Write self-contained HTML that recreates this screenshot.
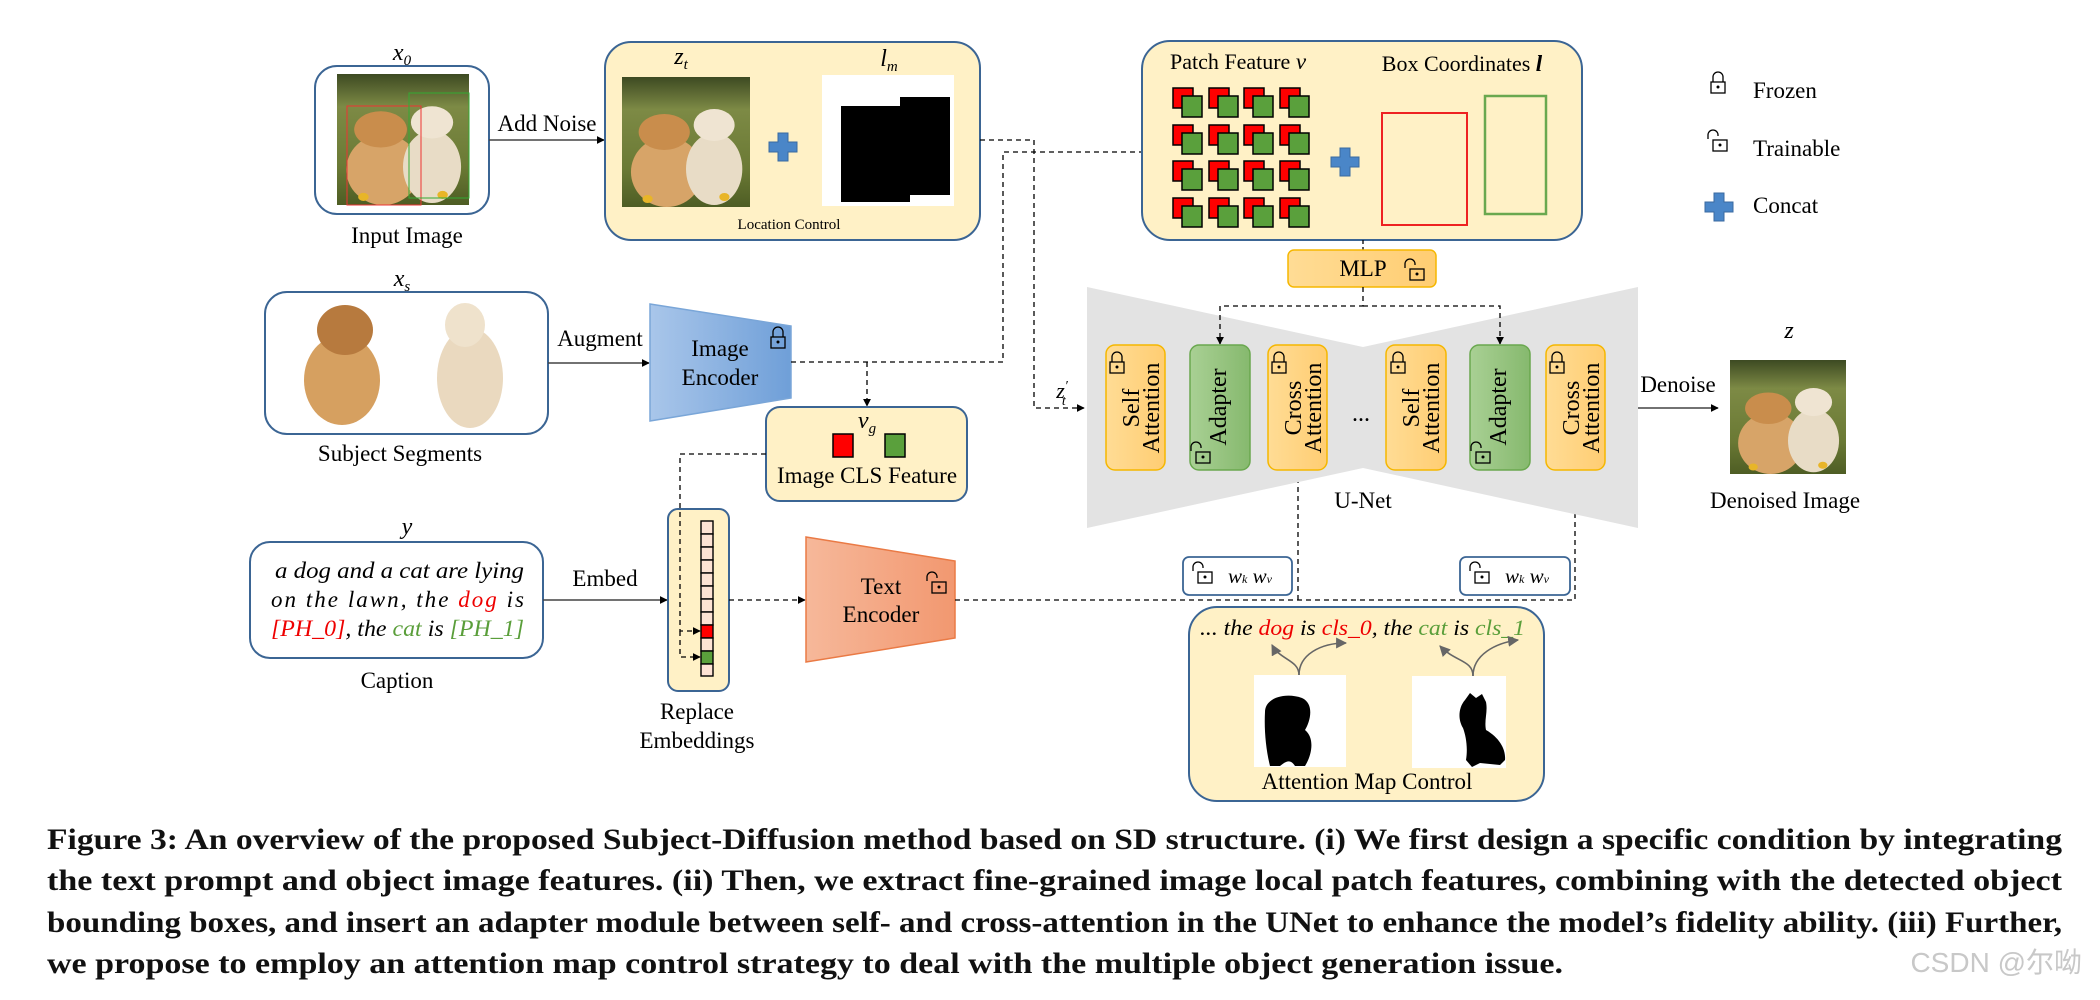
<!DOCTYPE html>
<html><head><meta charset="utf-8">
<style>
html,body{margin:0;padding:0;background:#fff;}
svg{display:block;}
text{font-family:"Liberation Serif",serif;}
</style></head>
<body>
<div style="position:relative;width:2100px;height:1000px;overflow:hidden;">
<svg width="2100" height="1000" viewBox="0 0 2100 1000" xmlns="http://www.w3.org/2000/svg">
<defs>
<marker id="ar" viewBox="0 0 10 10" refX="9" refY="5" markerWidth="8" markerHeight="8" orient="auto" markerUnits="userSpaceOnUse"><path d="M0,0 L10,5 L0,10 z" fill="#000"/></marker>
<marker id="arg" viewBox="0 0 10 10" refX="9" refY="5" markerWidth="11" markerHeight="11" orient="auto" markerUnits="userSpaceOnUse"><path d="M0,0 L10,5 L0,10 z" fill="#666"/></marker>
<linearGradient id="grass" x1="0" y1="0" x2="0" y2="1">
<stop offset="0" stop-color="#3d4a22"/><stop offset="0.25" stop-color="#7d8a45"/><stop offset="0.7" stop-color="#6b7a35"/><stop offset="1" stop-color="#4e5d24"/></linearGradient>
<linearGradient id="blue" x1="0" y1="0" x2="1" y2="0"><stop offset="0" stop-color="#a9c6ea"/><stop offset="1" stop-color="#6f9fd8"/></linearGradient>
<linearGradient id="oran" x1="0" y1="0" x2="1" y2="0"><stop offset="0" stop-color="#f6b89a"/><stop offset="1" stop-color="#f29870"/></linearGradient>
<linearGradient id="yel" x1="0" y1="0" x2="1" y2="0"><stop offset="0" stop-color="#ffdc95"/><stop offset="1" stop-color="#ffcd72"/></linearGradient>
<linearGradient id="grn" x1="0" y1="0" x2="1" y2="0"><stop offset="0" stop-color="#a9d094"/><stop offset="1" stop-color="#86b96e"/></linearGradient>
<symbol id="photo" viewBox="0 0 100 130" preserveAspectRatio="none">
<rect width="100" height="130" fill="url(#grass)"/>
<ellipse cx="35" cy="95" rx="28" ry="35" fill="#d7a468"/>
<ellipse cx="33" cy="55" rx="20" ry="18" fill="#c98d4c"/>
<ellipse cx="72" cy="92" rx="22" ry="36" fill="#e8dcc6"/>
<ellipse cx="72" cy="48" rx="16" ry="16" fill="#efe4d2"/>
<circle cx="20" cy="122" r="4" fill="#e8b528"/><circle cx="80" cy="120" r="4" fill="#e8b528"/>
</symbol>
<g id="lockC"><path d="M-5,0 v-5 a5,5 0 0 1 10,0 v5" fill="none" stroke="#000" stroke-width="1.3"/><rect x="-7" y="0" width="14" height="11" fill="none" stroke="#000" stroke-width="1.3"/><circle cx="0" cy="5" r="1.5" fill="#000"/></g>
<g id="lockO"><path d="M-9,-1 v-4 a5,5 0 0 1 10,0 v1" fill="none" stroke="#000" stroke-width="1.3"/><rect x="-4" y="0" width="14" height="11" fill="none" stroke="#000" stroke-width="1.3"/><circle cx="3" cy="5" r="1.5" fill="#000"/></g>
<g id="plus"><path d="M-5,-14 h10 v9 h9 v10 h-9 v9 h-10 v-9 h-9 v-10 h9 z" fill="#4a86c8" stroke="#3a6aa0" stroke-width="1"/></g>
<g id="pc" stroke="#000" stroke-width="1.5"><rect x="0" y="0" width="20" height="20" fill="#f00"/><rect x="9" y="8" width="20" height="21" fill="#5aa03c"/></g>
</defs>

<!-- Input image -->
<text x="402" y="60" font-size="24" font-style="italic" text-anchor="middle">x<tspan font-size="15" dy="5">0</tspan></text>
<rect x="315" y="66" width="174" height="148" rx="22" fill="#fff" stroke="#3b6594" stroke-width="2"/>
<use href="#photo" x="337" y="74" width="132" height="131"/>
<rect x="347" y="106" width="74" height="99" fill="none" stroke="#e33" stroke-width="1"/>
<rect x="409" y="93" width="60" height="105" fill="none" stroke="#3a3" stroke-width="1"/>
<text x="407" y="243" font-size="23" text-anchor="middle">Input Image</text>
<text x="547" y="131" font-size="23" text-anchor="middle">Add Noise</text>
<line x1="489" y1="140" x2="604" y2="140" stroke="#444" stroke-width="1.6" marker-end="url(#ar)"/>

<!-- Location control -->
<rect x="605" y="42" width="375" height="198" rx="26" fill="#fff1c6" stroke="#3b6594" stroke-width="2"/>
<text x="681" y="64" font-size="24" font-style="italic" text-anchor="middle">z<tspan font-size="15" dy="5">t</tspan></text>
<text x="889" y="66" font-size="24" font-style="italic" text-anchor="middle">l<tspan font-size="15" dy="5">m</tspan></text>
<use href="#photo" x="622" y="77" width="128" height="130"/>
<use href="#plus" x="783" y="147"/>
<rect x="822" y="75" width="132" height="131" fill="#fff"/>
<path d="M841,106 H900 V97 H950 V195 H910 V202 H841 Z" fill="#000"/>
<text x="789" y="229" font-size="15" text-anchor="middle">Location Control</text>

<!-- Subject segments -->
<text x="402" y="286" font-size="24" font-style="italic" text-anchor="middle">x<tspan font-size="15" dy="5">s</tspan></text>
<rect x="265" y="292" width="283" height="142" rx="22" fill="#fff" stroke="#3b6594" stroke-width="2"/>
<ellipse cx="342" cy="380" rx="38" ry="45" fill="#d6a060"/>
<ellipse cx="345" cy="330" rx="28" ry="25" fill="#b77a3e"/>
<ellipse cx="470" cy="378" rx="33" ry="50" fill="#ead9bf"/>
<ellipse cx="465" cy="325" rx="20" ry="22" fill="#efe2cc"/>
<text x="400" y="461" font-size="23" text-anchor="middle">Subject Segments</text>
<text x="600" y="346" font-size="23" text-anchor="middle">Augment</text>
<line x1="548" y1="363" x2="649" y2="363" stroke="#444" stroke-width="1.6" marker-end="url(#ar)"/>

<!-- Image encoder -->
<path d="M650,304 L791,326 L791,398 L650,421 Z" fill="url(#blue)" stroke="#7aa6d8" stroke-width="1.5"/>
<text x="720" y="356" font-size="23" text-anchor="middle">Image</text>
<text x="720" y="385" font-size="23" text-anchor="middle">Encoder</text>
<use href="#lockC" x="778" y="337"/>

<path d="M791,362 H1003 V152 H1167" fill="none" stroke="#000" stroke-width="1.3" stroke-dasharray="5,4" marker-end="url(#ar)"/>
<path d="M867,362 V406" fill="none" stroke="#000" stroke-width="1.3" stroke-dasharray="5,4" marker-end="url(#ar)"/>
<path d="M980,140 H1034 V408 H1084" fill="none" stroke="#000" stroke-width="1.3" stroke-dasharray="5,4" marker-end="url(#ar)"/>
<text x="1062" y="398" font-size="22" font-style="italic" text-anchor="middle">z<tspan font-size="14" dy="-8">′</tspan><tspan font-size="14" dx="-6" dy="15">t</tspan></text>

<!-- vg -->
<rect x="766" y="407" width="201" height="94" rx="14" fill="#fff1c6" stroke="#3b6594" stroke-width="2"/>
<text x="867" y="428" font-size="24" font-style="italic" text-anchor="middle">v<tspan font-size="15" dy="5">g</tspan></text>
<rect x="833" y="434" width="20" height="23" fill="#f00" stroke="#000" stroke-width="1.5"/>
<rect x="885" y="434" width="20" height="23" fill="#5aa03c" stroke="#000" stroke-width="1.5"/>
<text x="867" y="483" font-size="23" text-anchor="middle">Image CLS Feature</text>

<!-- caption -->
<text x="407" y="534" font-size="24" font-style="italic" text-anchor="middle">y</text>
<rect x="250" y="542" width="293" height="116" rx="20" fill="#fff" stroke="#3b6594" stroke-width="2"/>
<g font-size="23" font-style="italic">
<text x="275" y="578" textLength="249" lengthAdjust="spacingAndGlyphs">a dog and a cat are lying</text>
<text x="271" y="607" textLength="253" lengthAdjust="spacing">on the lawn, the <tspan fill="#e00">dog</tspan> is</text>
<text x="271" y="636" textLength="253" lengthAdjust="spacingAndGlyphs"><tspan fill="#e00">[PH_0]</tspan>, the <tspan fill="#5a9e3a">cat</tspan> is <tspan fill="#5a9e3a">[PH_1]</tspan></text>
</g>
<text x="397" y="688" font-size="23" text-anchor="middle">Caption</text>
<text x="605" y="586" font-size="23" text-anchor="middle">Embed</text>
<line x1="543" y1="600" x2="667" y2="600" stroke="#444" stroke-width="1.6" marker-end="url(#ar)"/>

<!-- replace embeddings -->
<rect x="668" y="509" width="61" height="182" rx="10" fill="#fff1c6" stroke="#3b6594" stroke-width="2"/>
<g stroke="#000" stroke-width="1.4" fill="#fde3d4">
<rect x="701" y="521" width="12" height="13"/><rect x="701" y="534" width="12" height="13"/><rect x="701" y="547" width="12" height="13"/><rect x="701" y="560" width="12" height="13"/><rect x="701" y="573" width="12" height="13"/><rect x="701" y="586" width="12" height="13"/><rect x="701" y="599" width="12" height="13"/><rect x="701" y="612" width="12" height="13"/>
<rect x="701" y="625" width="12" height="13" fill="#f00"/><rect x="701" y="638" width="12" height="13"/>
<rect x="701" y="651" width="12" height="13" fill="#5aa03c"/><rect x="701" y="664" width="12" height="12"/>
</g>
<path d="M766,454 H680 V631 H700" fill="none" stroke="#000" stroke-width="1.3" stroke-dasharray="5,4" marker-end="url(#ar)"/>
<path d="M680,631 V657 H700" fill="none" stroke="#000" stroke-width="1.3" stroke-dasharray="5,4" marker-end="url(#ar)"/>
<text x="697" y="719" font-size="23" text-anchor="middle">Replace</text>
<text x="697" y="748" font-size="23" text-anchor="middle">Embeddings</text>
<line x1="729" y1="600" x2="805" y2="600" stroke="#000" stroke-width="1.3" stroke-dasharray="5,4" marker-end="url(#ar)"/>

<!-- text encoder -->
<path d="M806,537 L955,561 L955,638 L806,662 Z" fill="url(#oran)" stroke="#ea7a45" stroke-width="1.5"/>
<text x="881" y="594" font-size="23" text-anchor="middle">Text</text>
<text x="881" y="622" font-size="23" text-anchor="middle">Encoder</text>
<use href="#lockO" x="936" y="582"/>
<path d="M955,600 H1575 V471" fill="none" stroke="#000" stroke-width="1.3" stroke-dasharray="5,4" marker-end="url(#ar)"/>
<path d="M1298,600 V471" fill="none" stroke="#000" stroke-width="1.3" stroke-dasharray="5,4" marker-end="url(#ar)"/>

<!-- patch feature -->
<rect x="1142" y="41" width="440" height="199" rx="28" fill="#fff1c6" stroke="#3b6594" stroke-width="2"/>
<text x="1238" y="69" font-size="22" text-anchor="middle">Patch Feature <tspan font-style="italic" font-size="23">v</tspan></text>
<text x="1462" y="71" font-size="22" text-anchor="middle">Box Coordinates <tspan font-style="italic" font-weight="bold" font-size="23">l</tspan></text>
<use href="#pc" x="1173" y="88"/><use href="#pc" x="1209" y="88"/><use href="#pc" x="1244" y="88"/><use href="#pc" x="1280" y="88"/>
<use href="#pc" x="1173" y="125"/><use href="#pc" x="1209" y="125"/><use href="#pc" x="1244" y="125"/><use href="#pc" x="1280" y="125"/>
<use href="#pc" x="1173" y="161"/><use href="#pc" x="1209" y="161"/><use href="#pc" x="1244" y="161"/><use href="#pc" x="1280" y="161"/>
<use href="#pc" x="1173" y="198"/><use href="#pc" x="1209" y="198"/><use href="#pc" x="1244" y="198"/><use href="#pc" x="1280" y="198"/>
<use href="#plus" x="1345" y="162"/>
<rect x="1382" y="113" width="85" height="112" fill="none" stroke="#e22" stroke-width="2"/>
<rect x="1485" y="96" width="61" height="118" fill="none" stroke="#6aa84f" stroke-width="2.5"/>

<!-- UNet -->
<path d="M1087,287 L1363,347 L1638,287 L1638,528 L1363,468 L1087,528 Z" fill="#e3e3e3"/>
<line x1="1363" y1="240" x2="1363" y2="250" stroke="#000" stroke-width="1.3" stroke-dasharray="4,3"/>
<rect x="1288" y="250" width="148" height="37" rx="6" fill="url(#yel)" stroke="#f5b700" stroke-width="1.5"/>
<text x="1363" y="276" font-size="23" text-anchor="middle">MLP</text>
<use href="#lockO" x="1414" y="269"/>
<path d="M1363,287 V306 H1220 V344" fill="none" stroke="#000" stroke-width="1.3" stroke-dasharray="5,4" marker-end="url(#ar)"/>
<path d="M1363,306 H1500 V344" fill="none" stroke="#000" stroke-width="1.3" stroke-dasharray="5,4" marker-end="url(#ar)"/>

<g font-size="24">
<rect x="1106" y="345" width="59" height="125" rx="9" fill="url(#yel)" stroke="#f5b700" stroke-width="1.5"/>
<text transform="translate(1131,408) rotate(-90)" text-anchor="middle" y="8">Self</text>
<text transform="translate(1159,408) rotate(-90)" text-anchor="middle" y="0">Attention</text>
<use href="#lockC" x="1117" y="362"/>
<rect x="1190" y="345" width="60" height="125" rx="9" fill="url(#grn)" stroke="#6aa84f" stroke-width="1.5"/>
<text transform="translate(1226,407) rotate(-90)" text-anchor="middle">Adapter</text>
<use href="#lockO" x="1200" y="452"/>
<rect x="1268" y="345" width="59" height="125" rx="9" fill="url(#yel)" stroke="#f5b700" stroke-width="1.5"/>
<text transform="translate(1293,408) rotate(-90)" text-anchor="middle" y="8">Cross</text>
<text transform="translate(1321,408) rotate(-90)" text-anchor="middle" y="0">Attention</text>
<use href="#lockC" x="1279" y="362"/>
<text x="1361" y="421" text-anchor="middle">...</text>
<rect x="1386" y="345" width="60" height="125" rx="9" fill="url(#yel)" stroke="#f5b700" stroke-width="1.5"/>
<text transform="translate(1411,408) rotate(-90)" text-anchor="middle" y="8">Self</text>
<text transform="translate(1439,408) rotate(-90)" text-anchor="middle" y="0">Attention</text>
<use href="#lockC" x="1398" y="362"/>
<rect x="1470" y="345" width="60" height="125" rx="9" fill="url(#grn)" stroke="#6aa84f" stroke-width="1.5"/>
<text transform="translate(1506,407) rotate(-90)" text-anchor="middle">Adapter</text>
<use href="#lockO" x="1480" y="452"/>
<rect x="1546" y="345" width="59" height="125" rx="9" fill="url(#yel)" stroke="#f5b700" stroke-width="1.5"/>
<text transform="translate(1571,408) rotate(-90)" text-anchor="middle" y="8">Cross</text>
<text transform="translate(1599,408) rotate(-90)" text-anchor="middle" y="0">Attention</text>
<use href="#lockC" x="1557" y="362"/>
</g>
<text x="1363" y="508" font-size="23" text-anchor="middle">U-Net</text>

<!-- Wk Wv -->
<rect x="1183" y="557" width="109" height="38" rx="6" fill="#fff" stroke="#3b6594" stroke-width="1.8"/>
<use href="#lockO" x="1202" y="572"/>
<text x="1250" y="583" font-size="21" font-style="italic" text-anchor="middle">w<tspan font-size="12">k</tspan>  w<tspan font-size="12">v</tspan></text>
<rect x="1460" y="557" width="110" height="38" rx="6" fill="#fff" stroke="#3b6594" stroke-width="1.8"/>
<use href="#lockO" x="1479" y="572"/>
<text x="1527" y="583" font-size="21" font-style="italic" text-anchor="middle">w<tspan font-size="12">k</tspan>  w<tspan font-size="12">v</tspan></text>

<!-- Denoise -->
<text x="1678" y="392" font-size="23" text-anchor="middle">Denoise</text>
<line x1="1638" y1="408" x2="1718" y2="408" stroke="#444" stroke-width="1.6" marker-end="url(#ar)"/>
<text x="1789" y="338" font-size="24" font-style="italic" text-anchor="middle">z</text>
<use href="#photo" x="1730" y="360" width="116" height="114"/>
<text x="1785" y="508" font-size="23" text-anchor="middle">Denoised Image</text>

<!-- legend -->
<use href="#lockC" x="1718" y="82"/>
<text x="1753" y="98" font-size="23">Frozen</text>
<use href="#lockO" x="1717" y="140"/>
<text x="1753" y="156" font-size="23">Trainable</text>
<use href="#plus" x="1719" y="207"/>
<text x="1753" y="213" font-size="23">Concat</text>

<!-- attention map control -->
<rect x="1189" y="607" width="355" height="194" rx="28" fill="#fff1c6" stroke="#3b6594" stroke-width="2"/>
<text x="1200" y="635" font-size="22" font-style="italic" textLength="325" lengthAdjust="spacingAndGlyphs">... the <tspan fill="#e00">dog</tspan> is <tspan fill="#e00">cls_0</tspan>, the <tspan fill="#5a9e3a">cat</tspan> is <tspan fill="#5a9e3a">cls_1</tspan></text>
<path d="M1299,675 C1299,660 1280,660 1272,645" fill="none" stroke="#666" stroke-width="1.6" marker-end="url(#arg)"/>
<path d="M1299,675 C1299,655 1320,643 1346,643" fill="none" stroke="#666" stroke-width="1.6" marker-end="url(#arg)"/>
<path d="M1473,676 C1473,660 1455,662 1440,646" fill="none" stroke="#666" stroke-width="1.6" marker-end="url(#arg)"/>
<path d="M1473,676 C1473,655 1495,643 1518,640" fill="none" stroke="#666" stroke-width="1.6" marker-end="url(#arg)"/>
<rect x="1254" y="675" width="92" height="92" fill="#fff"/>
<path d="M1265,712 C1265,698 1285,692 1302,698 C1315,704 1310,722 1305,730 C1315,738 1312,755 1305,766 L1295,766 C1290,758 1285,762 1280,766 L1270,766 C1266,750 1264,730 1265,712 Z" fill="#000"/>
<rect x="1412" y="676" width="94" height="92" fill="#fff"/>
<path d="M1465,700 L1470,693 L1476,698 L1482,694 L1486,702 C1488,712 1484,720 1486,730 C1500,738 1506,750 1505,760 L1500,765 L1480,763 L1472,767 L1466,760 C1468,748 1466,736 1463,728 C1458,720 1458,708 1465,700 Z" fill="#000"/>
<text x="1367" y="789" font-size="23" text-anchor="middle">Attention Map Control</text>

<!-- figure caption -->
<g font-size="30" font-weight="bold" fill="#111">
<text x="47" y="849" textLength="2015" lengthAdjust="spacingAndGlyphs">Figure 3: An overview of the proposed Subject-Diffusion method based on SD structure. (i) We first design a specific condition by integrating</text>
<text x="47" y="890" textLength="2015" lengthAdjust="spacingAndGlyphs">the text prompt and object image features. (ii) Then, we extract fine-grained image local patch features, combining with the detected object</text>
<text x="47" y="932" textLength="2015" lengthAdjust="spacingAndGlyphs">bounding boxes, and insert an adapter module between self- and cross-attention in the UNet to enhance the model’s fidelity ability. (iii) Further,</text>
<text x="47" y="973" textLength="1516" lengthAdjust="spacingAndGlyphs">we propose to employ an attention map control strategy to deal with the multiple object generation issue.</text>
</g>
<text x="2082" y="972" font-size="28" fill="#c8c8c8" text-anchor="end" style="font-family:'Liberation Sans','Noto Sans CJK SC',sans-serif">CSDN @尔呦</text>
</svg>
</div>
</body></html>
